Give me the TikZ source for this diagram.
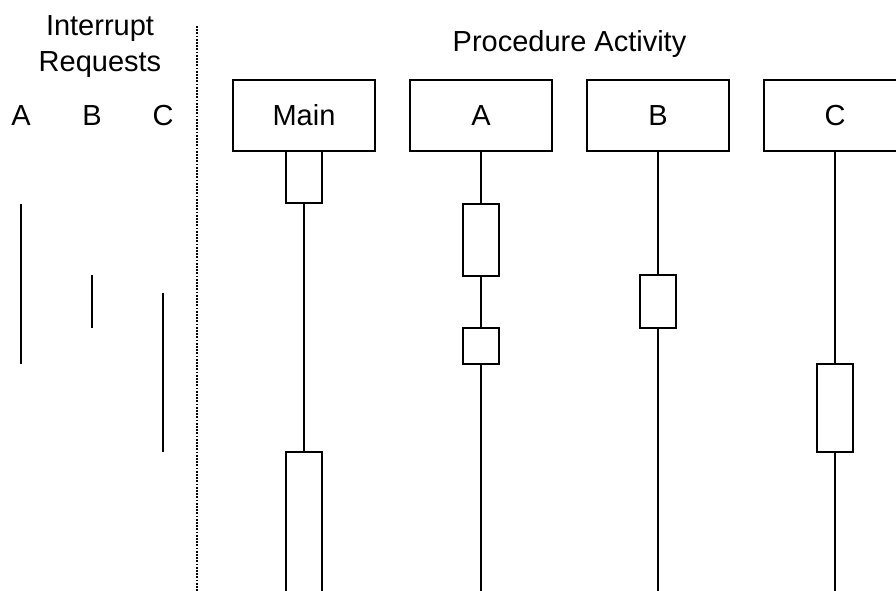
\documentclass[tikz,border=0pt]{standalone}
\usepackage{fontspec}
\setmainfont{Liberation Sans}
\tikzset{
	proc/.style={draw,line width=1.6pt,minimum width=142,minimum height=71,inner sep=0pt,outer sep=0pt},
	act/.style={draw,line width=1.6pt,minimum width=36,inner sep=0pt,outer sep=0pt},
	life/.style={line width=1.6pt},
	irq/.style={line width=1.6pt}
}
\begin{document}
\begin{tikzpicture}[x=1pt,y=-1pt,font=\fontsize{29}{34}\selectfont]
	\clip (0,0) rectangle (896,591);
	% interrupt side
	\node[anchor=base] (intr) at (100,36) {Interrupt};
	\node[anchor=base] (req) at (100,72) {Requests};
	\node[anchor=base] (ia) at (21,125) {A};
	\node[anchor=base] (ib) at (92,125) {B};
	\node[anchor=base] (ic) at (163,125) {C};
	\draw[irq] (21,204) -- (21,364);
	\draw[irq] (92,275) -- (92,328);
	\draw[irq] (163,293) -- (163,452);
	\draw[line width=2pt,dash pattern=on 1.8pt off 1.4pt] (197,26) -- (197,600);
	% procedures
	\node[anchor=base] (title) at (569.5,52) {Procedure Activity};
	\node[proc] (main) at (304,115.5) {Main};
	\node[proc] (pa) at (481,115.5) {A};
	\node[proc] (pb) at (658,115.5) {B};
	\node[proc] (pc) at (835,115.5) {C};
	\node[act,minimum height=52] (m1) at (304,177) {};
	\node[act,minimum height=168] (m2) at (304,536) {};
	\node[act,minimum height=72] (a1) at (481,240) {};
	\node[act,minimum height=36] (a2) at (481,346) {};
	\node[act,minimum height=53] (b1) at (658,301.5) {};
	\node[act,minimum height=88] (c1) at (835,408) {};
	\coordinate (aend) at (481,600);
	\coordinate (bend) at (658,600);
	\coordinate (cend) at (835,600);
	% lifelines
	\draw[life] (m1.south) -- (m2.north);
	\draw[life] (pa.south) -- (a1.north);
	\draw[life] (a1.south) -- (a2.north);
	\draw[life] (a2.south) -- (aend);
	\draw[life] (pb.south) -- (b1.north);
	\draw[life] (b1.south) -- (bend);
	\draw[life] (pc.south) -- (c1.north);
	\draw[life] (c1.south) -- (cend);
\end{tikzpicture}
\end{document}
